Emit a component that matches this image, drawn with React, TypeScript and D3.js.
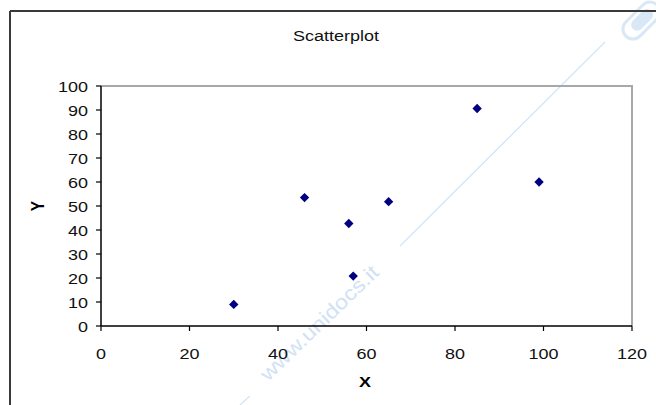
import React from "react";
import * as d3 from "d3";

const xValues = [30, 46, 56, 57, 65, 85, 99];
const yValues = [9, 53.5, 42.7, 20.8, 51.8, 90.6, 60];
const xTicks = [0, 20, 40, 60, 80, 100, 120];
const yTicks = [0, 10, 20, 30, 40, 50, 60, 70, 80, 90, 100];
const title = "Scatterplot";
const xLabel = "X";
const yLabel = "Y";
const watermark = "www.unidocs.it";

const W = 656;
const H = 405;
const FONT = "'Liberation Sans', Arial, sans-serif";
const SX = 1.16;

export default function App() {
  const x = d3.scaleLinear().domain([0, 120]).range([101, 632]);
  const y = d3.scaleLinear().domain([0, 100]).range([326, 86]);
  const pts = xValues.map((v, i) => ({ x: v, y: yValues[i] }));
  const diamond = d3.symbol().type(d3.symbolDiamond2 || d3.symbolDiamond).size(56)();

  return (
    <svg
      width={W}
      height={H}
      style={{ position: "absolute", left: 0, top: 0, background: "#fff" }}
    >
      {/* watermark */}
      <g>
        <line x1={400} y1={246} x2={605} y2={42} stroke="#d4e6f6" strokeWidth={1.3} />
        <line x1={240} y1={405} x2={250} y2={396} stroke="#d4e6f6" strokeWidth={1.3} />
        <g transform="translate(640,22) rotate(45)">
          <rect x={-10} y={-24} width={20} height={44} rx={10} fill="none" stroke="#d8e8f6" strokeWidth={3} />
          <rect x={-6} y={-16} width={12} height={26} rx={6} fill="#d8e8f6" />
        </g>
        <text
          transform="translate(268,382) rotate(-44)"
          fontFamily={FONT}
          fontSize={20}
          fill="#d0e2f4"
          textLength={156}
          lengthAdjust="spacingAndGlyphs"
        >
          {watermark}
        </text>
      </g>

      {/* outer frame */}
      <line x1={10} y1={11} x2={W} y2={11} stroke="#3a3a3a" strokeWidth={2} />
      <line x1={10} y1={11} x2={10} y2={H} stroke="#3a3a3a" strokeWidth={2} />

      {/* title */}
      <g transform={`translate(336,41) scale(${SX},1)`}>
        <text textAnchor="middle" fontFamily={FONT} fontSize={15.5} fill="#111">
          {title}
        </text>
      </g>

      {/* plot area border (top/right gray) */}
      <path
        d={`M${x(0)},${y(100)}H${x(120)}V${y(0)}`}
        fill="none"
        stroke="#a8a8a8"
        strokeWidth={2}
      />

      {/* axes */}
      <line x1={x(0)} y1={y(0)} x2={x(120)} y2={y(0)} stroke="#000" strokeWidth={1.5} />
      <line x1={x(0)} y1={y(0)} x2={x(0)} y2={y(100)} stroke="#000" strokeWidth={1.5} />

      {yTicks.map((t) => (
        <g key={"y" + t}>
          <line x1={x(0) - 5} x2={x(0)} y1={y(t)} y2={y(t)} stroke="#000" strokeWidth={1.2} />
          <g transform={`translate(88,${y(t) + 5.6}) scale(${SX},1)`}>
            <text textAnchor="end" fontFamily={FONT} fontSize={15.5} fill="#111">
              {t}
            </text>
          </g>
        </g>
      ))}

      {xTicks.map((t) => (
        <g key={"x" + t}>
          <line x1={x(t)} x2={x(t)} y1={y(0)} y2={y(0) + 5} stroke="#000" strokeWidth={1.2} />
          <g transform={`translate(${x(t)},358.5) scale(${SX},1)`}>
            <text textAnchor="middle" fontFamily={FONT} fontSize={15.5} fill="#111">
              {t}
            </text>
          </g>
        </g>
      ))}

      {/* axis labels */}
      <g transform={`translate(365,387) scale(${SX},1)`}>
        <text textAnchor="middle" fontFamily={FONT} fontSize={15.5} fontWeight="bold" fill="#000">
          {xLabel}
        </text>
      </g>
      <g transform={`translate(44,206) rotate(-90) scale(1,${SX})`}>
        <text textAnchor="middle" fontFamily={FONT} fontSize={15.5} fontWeight="bold" fill="#000">
          {yLabel}
        </text>
      </g>

      {/* points */}
      {pts.map((p, i) => (
        <path
          key={i}
          d={diamond as string}
          transform={`translate(${x(p.x)},${y(p.y)})`}
          fill="#000080"
        />
      ))}
    </svg>
  );
}
